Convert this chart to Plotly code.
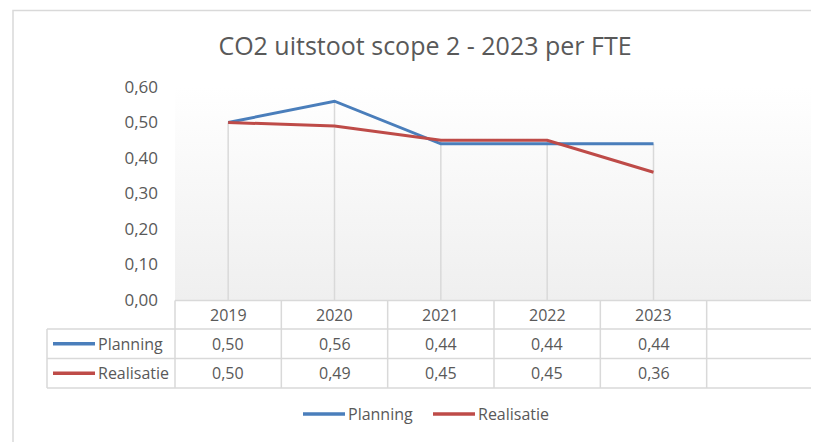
import base64
import plotly.graph_objects as go

# ---- data ----
years = ["2019", "2020", "2021", "2022", "2023"]
planning = [0.50, 0.56, 0.44, 0.44, 0.44]
realisatie = [0.50, 0.49, 0.45, 0.45, 0.36]
series_names = ["Planning", "Realisatie"]
y_tick_vals = [0.0, 0.1, 0.2, 0.3, 0.4, 0.5, 0.6]
title_text = "CO2 uitstoot scope 2 - 2023 per FTE"

# ---- styling / layout constants (window pixels; page body has an 8px margin) ----
OFF = 8
W, H = 819, 442
PLOT_L, PLOT_R, PLOT_T, PLOT_B = 175, 813, 87, 300   # window pixels
L = PLOT_L - OFF
T = PLOT_T - OFF
R = W - (PLOT_R - OFF)
B = H - (PLOT_B - OFF)
PW, PH = PLOT_R - PLOT_L, PLOT_B - PLOT_T
FONT = "Open Sans"
TXT = "#595959"
GRID = "#d9d9d9"
BLUE = "#4a7ebb"
RED = "#be4b48"
N_CATS = len(years) + 1          # Excel table shows one extra empty column
XR = [-0.5, N_CATS - 0.5]


def px2x(px):
    return (px - PLOT_L) / PW


def py2y(py):
    return (PLOT_B - py) / PH


def cat2paper(c):
    return (c - XR[0]) / (XR[1] - XR[0])


xs = list(range(len(years)))
fig = go.Figure()
for name, vals, col in [(series_names[0], planning, BLUE), (series_names[1], realisatie, RED)]:
    fig.add_trace(go.Scatter(x=xs, y=vals, mode="lines", name=name,
                             line=dict(color=col, width=3), showlegend=False,
                             hoverinfo="skip"))

shapes = []
# outer chart border
shapes.append(dict(type="rect", xref="paper", yref="paper",
                   x0=px2x(13), x1=px2x(840), y0=py2y(470), y1=py2y(10.5),
                   line=dict(color=GRID, width=1.5), fillcolor="rgba(0,0,0,0)"))
# drop lines
for i, (p, r) in enumerate(zip(planning, realisatie)):
    shapes.append(dict(type="line", xref="x", yref="y", x0=i, x1=i, y0=0, y1=max(p, r),
                       line=dict(color=GRID, width=1.5), layer="below"))

# data table
row_edges = [300.5, 329, 358.5, 388]
tab_left = 47
shapes.append(dict(type="line", xref="paper", yref="paper", x0=0, x1=1,
                   y0=py2y(row_edges[0]), y1=py2y(row_edges[0]), line=dict(color=GRID, width=1.5)))
for ry in row_edges[1:]:
    shapes.append(dict(type="line", xref="paper", yref="paper", x0=px2x(tab_left), x1=1,
                       y0=py2y(ry), y1=py2y(ry), line=dict(color=GRID, width=1.5)))
shapes.append(dict(type="line", xref="paper", yref="paper", x0=px2x(tab_left), x1=px2x(tab_left),
                   y0=py2y(row_edges[1]), y1=py2y(row_edges[-1]), line=dict(color=GRID, width=1.5)))
for k in range(N_CATS + 1):
    xp = cat2paper(k - 0.5)
    shapes.append(dict(type="line", xref="paper", yref="paper", x0=xp, x1=xp,
                       y0=py2y(row_edges[0]), y1=py2y(row_edges[-1]), line=dict(color=GRID, width=1.5)))

annotations = []
row_centers = [(row_edges[i] + row_edges[i + 1]) / 2 for i in range(3)]
for i, yr in enumerate(years):
    annotations.append(dict(xref="x", yref="paper", x=i, y=py2y(row_centers[0]), text=yr,
                            showarrow=False, xanchor="center", yanchor="middle",
                            font=dict(family=FONT, size=16, color=TXT)))


def fmt(v):
    return f"{v:.2f}".replace(".", ",")


for row, (name, vals, col) in enumerate([(series_names[0], planning, BLUE),
                                          (series_names[1], realisatie, RED)]):
    cy = py2y(row_centers[row + 1])
    for i, v in enumerate(vals):
        annotations.append(dict(xref="x", yref="paper", x=i, y=cy, text=fmt(v),
                                showarrow=False, xanchor="center", yanchor="middle",
                                font=dict(family=FONT, size=16, color=TXT)))
    shapes.append(dict(type="line", xref="paper", yref="paper", x0=px2x(53), x1=px2x(95),
                       y0=cy, y1=cy, line=dict(color=col, width=3.5)))
    annotations.append(dict(xref="paper", yref="paper", x=px2x(96), y=cy, text=name,
                            showarrow=False, xanchor="left", yanchor="middle",
                            font=dict(family=FONT, size=16, color=TXT)))

# bottom legend
leg_y = py2y(414)
for name, col, x0 in [(series_names[0], BLUE, 303), (series_names[1], RED, 433)]:
    shapes.append(dict(type="line", xref="paper", yref="paper", x0=px2x(x0), x1=px2x(x0 + 42),
                       y0=leg_y, y1=leg_y, line=dict(color=col, width=3.5)))
    annotations.append(dict(xref="paper", yref="paper", x=px2x(x0 + 43), y=leg_y, text=name,
                            showarrow=False, xanchor="left", yanchor="middle",
                            font=dict(family=FONT, size=16, color=TXT)))

# gradient plot background
svg = ('<svg xmlns="http://www.w3.org/2000/svg" width="100" height="100" preserveAspectRatio="none">'
       '<defs><linearGradient id="g" x1="0" y1="0" x2="0" y2="1">'
       '<stop offset="0" stop-color="#ffffff"/><stop offset="1" stop-color="#efefef"/>'
       '</linearGradient></defs><rect width="100" height="100" fill="url(#g)"/></svg>')
src = "data:image/svg+xml;base64," + base64.b64encode(svg.encode()).decode()

fig.update_layout(
    width=W, height=H,
    margin=dict(l=L, r=R, t=T, b=B, pad=0),
    paper_bgcolor="white", plot_bgcolor="rgba(0,0,0,0)",
    separators=",.",
    title=dict(text=title_text, xref="container", x=(425 - OFF) / W, xanchor="center",
               yref="container", y=1 - (46 - OFF) / H, yanchor="middle",
               font=dict(family=FONT, size=25, color=TXT)),
    xaxis=dict(range=XR, showgrid=False, zeroline=False, showticklabels=False,
               ticks="", showline=False, fixedrange=True),
    yaxis=dict(range=[0, 0.6], tickvals=y_tick_vals, tickformat=".2f", showgrid=False,
               zeroline=False, showline=False, ticks="", ticklabelstandoff=16,
               tickfont=dict(family=FONT, size=17, color=TXT), fixedrange=True),
    shapes=shapes, annotations=annotations,
    images=[dict(source=src, xref="paper", yref="paper", x=0, y=1, sizex=1, sizey=1,
                 sizing="stretch", xanchor="left", yanchor="top", layer="below")],
    showlegend=False,
)

fig.write_html("out.html", config={"displayModeBar": False})
